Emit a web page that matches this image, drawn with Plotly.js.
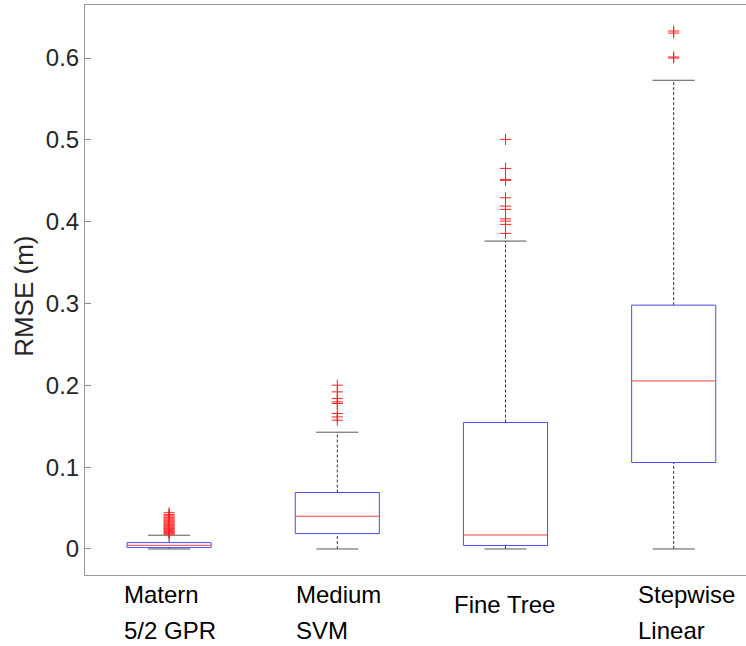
<!DOCTYPE html>
<html>
<head>
<meta charset="utf-8">
<script src="https://cdn.plot.ly/plotly-3.0.1.min.js"></script>
<style>html,body{margin:0;padding:0;background:#fff;}</style>
</head>
<body>
<div id="chart" style="width:746px;height:646px;"></div>
<script>
// ---- data ----
const positions = [1, 2, 3, 4];
const labelLine1 = ['Matern', 'Medium', 'Fine Tree', 'Stepwise'];
const labelLine2 = ['5/2 GPR', 'SVM', '', 'Linear'];
const lowerWhisker = [0, 0, 0, 0];
const q1Values = [0.0017, 0.0188, 0.0042, 0.1057];
const medianValues = [0.0045, 0.040, 0.0171, 0.2054];
const q3Values = [0.0078, 0.0690, 0.1546, 0.2980];
const upperWhisker = [0.0168, 0.1427, 0.3763, 0.5728];
const outliersMatern = [0.0180, 0.0192, 0.0203, 0.0215, 0.0228, 0.0240, 0.0252, 0.0265, 0.0278, 0.0290, 0.0302, 0.0315, 0.0328, 0.0340, 0.0352, 0.0365, 0.0378, 0.0390, 0.0405, 0.0420, 0.0443];
const outliersSVM = [0.2002, 0.1920, 0.1840, 0.1798, 0.1778, 0.1656, 0.1614, 0.1574];
const outliersTree = [0.5006, 0.4651, 0.4517, 0.4505, 0.4292, 0.4190, 0.4150, 0.4035, 0.4007, 0.3967, 0.3857];
const outliersStepwise = [0.6330, 0.6305, 0.6012, 0.6000];
const yTickVals = [0, 0.1, 0.2, 0.3, 0.4, 0.5, 0.6];
const yTickText = ['0', '0.1', '0.2', '0.3', '0.4', '0.5', '0.6'];
const yTitle = 'RMSE (m)';

// ---- styles ----
const FONT = "'Liberation Sans', Arial, Helvetica, sans-serif";
const boxWidth = 0.5;
const capWidth = 0.25;
const labelNudgePx = [0, 0, -2, 12];
const traces = [];

// whiskers (dashed black)
const wx = [], wy = [];
positions.forEach((p, i) => {
  wx.push(p, p, null, p, p, null);
  wy.push(q3Values[i], upperWhisker[i], null, lowerWhisker[i], q1Values[i], null);
});
traces.push({type: 'scatter', mode: 'lines', x: wx, y: wy, hoverinfo: 'skip',
  line: {color: '#333333', width: 1, dash: '3px,2px'}, showlegend: false});

// boxes (blue rectangles from q1..q3)
const bx = [], by = [];
positions.forEach((p, i) => {
  const l = p - boxWidth / 2, r = p + boxWidth / 2;
  bx.push(l, r, r, l, l, null);
  by.push(q1Values[i], q1Values[i], q3Values[i], q3Values[i], q1Values[i], null);
});
traces.push({type: 'scatter', mode: 'lines', x: bx, y: by, hoverinfo: 'skip',
  line: {color: '#4a4af2', width: 1}, showlegend: false});

// medians (red)
const mx = [], my = [];
positions.forEach((p, i) => {
  mx.push(p - boxWidth / 2, p + boxWidth / 2, null);
  my.push(medianValues[i], medianValues[i], null);
});
traces.push({type: 'scatter', mode: 'lines', x: mx, y: my, hoverinfo: 'skip',
  line: {color: '#f03c3c', width: 1}, showlegend: false});

// caps (dark grey)
const cx = [], cy = [];
positions.forEach((p, i) => {
  cx.push(p - capWidth / 2, p + capWidth / 2, null, p - capWidth / 2, p + capWidth / 2, null);
  cy.push(upperWhisker[i], upperWhisker[i], null, lowerWhisker[i], lowerWhisker[i], null);
});
traces.push({type: 'scatter', mode: 'lines', x: cx, y: cy, hoverinfo: 'skip',
  line: {color: '#555555', width: 1}, showlegend: false});

// outliers (red +)
const allOut = [outliersMatern, outliersSVM, outliersTree, outliersStepwise];
const ox = [], oy = [];
allOut.forEach((arr, i) => arr.forEach(v => { ox.push(positions[i]); oy.push(v); }));
traces.push({type: 'scatter', mode: 'markers', x: ox, y: oy, hoverinfo: 'skip',
  marker: {symbol: 'cross-thin-open', size: 8, color: '#ff2020', line: {color: '#ff2020', width: 1}},
  showlegend: false});

// category labels: left-aligned blocks centred on each position
const cvs = document.createElement('canvas').getContext('2d');
cvs.font = "24px 'Liberation Sans'";
const annotations = [];
positions.forEach((p, i) => {
  const w = Math.max(cvs.measureText(labelLine1[i]).width, cvs.measureText(labelLine2[i]).width);
  const twoLines = labelLine2[i] !== '';
  const common = {xref: 'x', yref: 'paper', x: p, y: 0, xanchor: 'left', yanchor: 'middle',
    xshift: -w / 2 - 1 + labelNudgePx[i], showarrow: false, font: {family: FONT, size: 24, color: '#000000'}};
  if (twoLines) {
    annotations.push(Object.assign({}, common, {text: labelLine1[i], yshift: -19}));
    annotations.push(Object.assign({}, common, {text: labelLine2[i], yshift: -55}));
  } else {
    annotations.push(Object.assign({}, common, {text: labelLine1[i], yshift: -29}));
  }
});
annotations.push({xref: 'paper', yref: 'paper', x: 0, y: 0.488, xanchor: 'center', yanchor: 'middle',
  xshift: -61, textangle: -90, showarrow: false, text: yTitle,
  font: {family: FONT, size: 26, color: '#262626'}});

const layout = {
  width: 746, height: 646,
  margin: {l: 85, r: 0, t: 5, b: 71, pad: 0},
  paper_bgcolor: '#ffffff', plot_bgcolor: '#ffffff',
  showlegend: false,
  xaxis: {range: [0.5, 0.5 + 661 / 168.2], showgrid: false, zeroline: false,
    showline: true, mirror: true, linecolor: '#999999', linewidth: 1,
    showticklabels: false, ticks: '', fixedrange: true},
  yaxis: {range: [-0.0318, 0.6648], showgrid: false, zeroline: false,
    showline: true, mirror: false, linecolor: '#999999', linewidth: 1,
    tickmode: 'array', tickvals: yTickVals, ticktext: yTickText,
    ticks: 'inside', ticklen: 6, tickcolor: '#888888', tickwidth: 1,
    tickfont: {family: FONT, size: 24, color: '#262626'}, fixedrange: true},
  annotations: annotations
};

Plotly.newPlot('chart', traces, layout, {staticPlot: true, displayModeBar: false});
</script>
</body>
</html>
